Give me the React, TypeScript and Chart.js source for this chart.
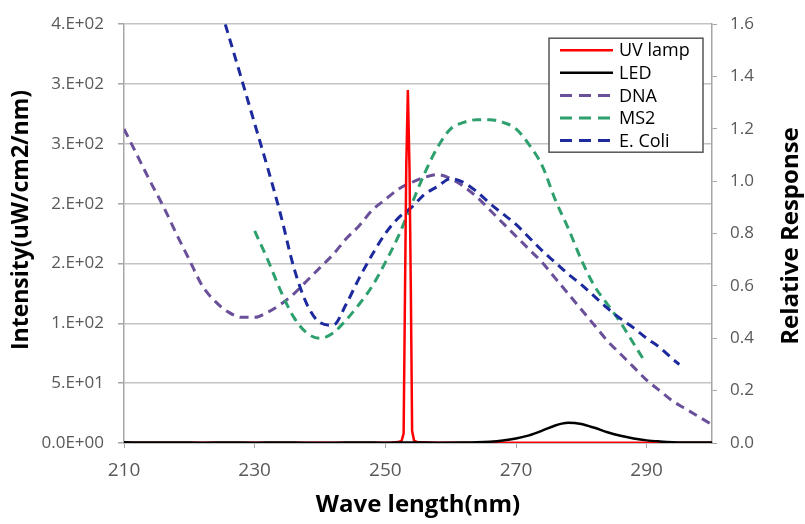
import React, { useEffect, useRef } from "react";
import { Chart, registerables } from "chart.js";

Chart.register(...registerables);

// ---------- data ----------
const X_TICKS = [210, 230, 250, 270, 290];
const LEFT_TICK_VALUES = [0, 50, 100, 150, 200, 250, 300, 350];
const LEFT_TICK_LABELS = ["0.0E+00", "5.E+01", "1.E+02", "2.E+02", "2.E+02", "3.E+02", "3.E+02", "4.E+02"];
const RIGHT_TICK_VALUES = [0, 0.2, 0.4, 0.6, 0.8, 1.0, 1.2, 1.4, 1.6];
const RIGHT_TICK_LABELS = ["0.0", "0.2", "0.4", "0.6", "0.8", "1.0", "1.2", "1.4", "1.6"];

const X_TITLE = "Wave length(nm)";
const LEFT_TITLE = "Intensity(uW/cm2/nm)";
const RIGHT_TITLE = "Relative Response";

const SERIES_LABELS = ["UV lamp", "LED", "DNA", "MS2", "E. Coli"];

const UV_X = [210, 220, 230, 240, 248, 251, 252, 252.5, 252.8, 253.0, 253.2, 253.45, 253.7, 253.9, 254.1, 254.4, 255, 258, 265, 275, 285, 300];
const UV_Y = [0.2, 0.2, 0.2, 0.3, 0.3, 0.5, 0.8, 2, 8, 120, 230, 295, 230, 130, 10, 2, 0.6, 0.3, 0.2, 0.2, 0.2, 0.2];

const LED_X = [210, 214, 218, 222, 226, 230, 234, 238, 242, 246, 250, 254, 258, 262, 264, 266, 268, 270, 272, 274, 276, 277, 278, 279, 280, 282, 284, 286, 288, 290, 292, 294, 296, 300];
const LED_Y = [0.6, 0.4, 0.5, 0.3, 0.4, 0.3, 0.4, 0.3, 0.3, 0.4, 0.3, 0.4, 0.3, 0.4, 0.6, 1.1, 2.1, 3.8, 6.4, 10.3, 14.6, 16.2, 17.0, 16.8, 15.9, 12.7, 9.0, 6.0, 3.8, 2.2, 1.3, 0.7, 0.5, 0.4];

const DNA_X = [210, 212, 214, 216, 218, 220, 222, 224, 226, 228, 230, 232, 234, 236, 238, 240, 242, 244, 246, 248, 250, 252, 254, 256, 258, 260, 262, 264, 266, 268, 270, 272, 274, 276, 278, 280, 282, 284, 286, 288, 290, 292, 294, 296, 298, 300];
const DNA_Y = [1.20, 1.10, 1.00, 0.905, 0.80, 0.70, 0.60, 0.54, 0.50, 0.48, 0.48, 0.50, 0.53, 0.57, 0.62, 0.67, 0.72, 0.78, 0.83, 0.89, 0.93, 0.97, 0.995, 1.015, 1.025, 1.01, 0.98, 0.94, 0.89, 0.84, 0.79, 0.74, 0.69, 0.63, 0.57, 0.51, 0.45, 0.39, 0.34, 0.29, 0.24, 0.20, 0.16, 0.13, 0.10, 0.07];

const MS2_X = [230, 232, 234, 236, 238, 240, 242, 244, 246, 248, 250, 252, 254, 256, 258, 260, 262, 264, 266, 268, 270, 272, 274, 276, 278, 280, 282, 284, 286, 288, 289.5];
const MS2_Y = [0.81, 0.70, 0.58, 0.48, 0.42, 0.40, 0.42, 0.47, 0.53, 0.60, 0.69, 0.79, 0.91, 1.03, 1.13, 1.20, 1.225, 1.235, 1.235, 1.225, 1.20, 1.14, 1.06, 0.93, 0.82, 0.70, 0.60, 0.53, 0.46, 0.38, 0.32];

const ECOLI_X = [225.5, 228, 230, 232, 234, 236, 238, 240, 242, 244, 246, 248, 250, 252, 254, 256, 258, 260, 262, 264, 266, 268, 270, 272, 274, 276, 278, 280, 282, 284, 286, 288, 290, 292, 294, 295];
const ECOLI_Y = [1.60, 1.39, 1.22, 1.05, 0.87, 0.67, 0.53, 0.46, 0.45, 0.53, 0.63, 0.72, 0.80, 0.86, 0.90, 0.95, 0.98, 1.01, 0.995, 0.96, 0.915, 0.875, 0.835, 0.785, 0.735, 0.69, 0.645, 0.605, 0.56, 0.515, 0.475, 0.44, 0.40, 0.365, 0.32, 0.30];

// ---------- styles ----------
const FONT = "'Open Sans', 'Noto Sans', sans-serif";
const COLORS = ["#FF0000", "#000000", "#6A4F9A", "#2DA06E", "#1C2A9E"];
const DASH = [9, 6];
const LEGEND_DASH = [12, 7];
const GRID = "#C4C4C4";
const AXIS = "#A6A6A6";
const TICK_TEXT = "#595959";

const pts = (xs: number[], ys: number[]) => xs.map((x, i) => ({ x, y: ys[i] }));

export default function App() {
  const ref = useRef<HTMLCanvasElement | null>(null);

  useEffect(() => {
    if (!ref.current) return;

    const overlay = {
      id: "overlay",
      afterDraw(chart: any) {
        const c = chart.ctx as CanvasRenderingContext2D;
        const a = chart.chartArea;
        // left axis title
        c.save();
        c.fillStyle = "#000";
        c.font = `bold 23px ${FONT}`;
        c.textAlign = "center";
        c.textBaseline = "middle";
        c.translate(21, 220);
        c.rotate(-Math.PI / 2);
        c.fillText(LEFT_TITLE, 0, 0);
        c.restore();
        // right axis title
        c.save();
        c.fillStyle = "#000";
        c.font = `bold 24px ${FONT}`;
        c.textAlign = "center";
        c.textBaseline = "middle";
        c.translate(791, 236);
        c.rotate(-Math.PI / 2);
        c.fillText(RIGHT_TITLE, 0, 0);
        c.restore();
        // legend box
        const bw = 154, bh = 114;
        const bx = a.right - 163, by = a.top + 14;
        c.save();
        c.fillStyle = "#fff";
        c.fillRect(bx, by, bw, bh);
        c.strokeStyle = "#555";
        c.lineWidth = 1.5;
        c.strokeRect(bx, by, bw, bh);
        chart.data.datasets.forEach((ds: any, i: number) => {
          const y = by + 12 + i * 22.6;
          c.beginPath();
          c.setLineDash(ds.borderDash && ds.borderDash.length ? LEGEND_DASH : []);
          c.strokeStyle = ds.borderColor;
          c.lineWidth = ds.borderWidth;
          c.moveTo(bx + 11, y);
          c.lineTo(bx + 64, y);
          c.stroke();
          c.setLineDash([]);
          c.fillStyle = "#000";
          c.font = `18px ${FONT}`;
          c.textAlign = "left";
          c.textBaseline = "middle";
          c.fillText(ds.label, bx + 70, y + 1);
        });
        c.restore();
      },
    };

    const chart = new Chart(ref.current, {
      type: "line",
      data: {
        datasets: [
          { label: SERIES_LABELS[0], data: pts(UV_X, UV_Y), yAxisID: "y", borderColor: COLORS[0], backgroundColor: COLORS[0], borderWidth: 2.5, pointRadius: 0, tension: 0, order: 1 },
          { label: SERIES_LABELS[1], data: pts(LED_X, LED_Y), yAxisID: "y", borderColor: COLORS[1], backgroundColor: COLORS[1], borderWidth: 2.5, pointRadius: 0, cubicInterpolationMode: "monotone", order: 0 },
          { label: SERIES_LABELS[2], data: pts(DNA_X, DNA_Y), yAxisID: "y1", borderColor: COLORS[2], backgroundColor: COLORS[2], borderWidth: 3, borderDash: DASH, pointRadius: 0, cubicInterpolationMode: "monotone", order: 4 },
          { label: SERIES_LABELS[3], data: pts(MS2_X, MS2_Y), yAxisID: "y1", borderColor: COLORS[3], backgroundColor: COLORS[3], borderWidth: 3, borderDash: DASH, pointRadius: 0, cubicInterpolationMode: "monotone", order: 3 },
          { label: SERIES_LABELS[4], data: pts(ECOLI_X, ECOLI_Y), yAxisID: "y1", borderColor: COLORS[4], backgroundColor: COLORS[4], borderWidth: 3, borderDash: DASH, pointRadius: 0, cubicInterpolationMode: "monotone", order: 2 },
        ] as any,
      },
      options: {
        responsive: false,
        animation: false,
        layout: { padding: { top: 22, left: 0, right: 0, bottom: 0 } },
        plugins: { legend: { display: false }, tooltip: { enabled: false } },
        scales: {
          x: {
            type: "linear",
            position: "bottom",
            min: 210,
            max: 300,
            afterBuildTicks: (s: any) => { s.ticks = X_TICKS.map((v) => ({ value: v })); },
            afterFit: (s: any) => { s.height = 81; },
            grid: { drawOnChartArea: false, drawTicks: true, tickLength: 5, color: AXIS },
            border: { display: true, color: AXIS, width: 1.5 },
            ticks: { color: TICK_TEXT, font: { family: FONT, size: 19 }, padding: 11, maxRotation: 0, autoSkip: false },
            title: { display: true, text: X_TITLE, color: "#000", font: { family: FONT, size: 24, weight: "bold" }, padding: { top: 0, bottom: 4 } },
          },
          y: {
            type: "linear",
            position: "left",
            min: 0,
            max: 350,
            afterBuildTicks: (s: any) => { s.ticks = LEFT_TICK_VALUES.map((v) => ({ value: v })); },
            afterFit: (s: any) => { s.width = 124; },
            grid: { color: GRID, lineWidth: 1.5, tickLength: 6, tickColor: AXIS },
            border: { display: true, color: AXIS, width: 1.5 },
            ticks: { color: TICK_TEXT, font: { family: FONT, size: 17 }, padding: 14, callback: (_v: any, i: number) => LEFT_TICK_LABELS[i] },
          },
          y1: {
            type: "linear",
            position: "right",
            min: 0,
            max: 1.6,
            afterBuildTicks: (s: any) => { s.ticks = RIGHT_TICK_VALUES.map((v) => ({ value: v })); },
            afterFit: (s: any) => { s.width = 93; },
            grid: { drawOnChartArea: false, tickLength: 5, color: AXIS },
            border: { display: true, color: AXIS, width: 1.5 },
            ticks: { color: TICK_TEXT, font: { family: FONT, size: 17 }, padding: 13, callback: (_v: any, i: number) => RIGHT_TICK_LABELS[i] },
          },
        },
      } as any,
      plugins: [overlay],
    });

    return () => chart.destroy();
  }, []);

  return (
    <div style={{ position: "fixed", left: 0, top: 0, width: 805, height: 524, background: "#fff" }}>
      <canvas ref={ref} width={805} height={524} style={{ display: "block" }} />
    </div>
  );
}
